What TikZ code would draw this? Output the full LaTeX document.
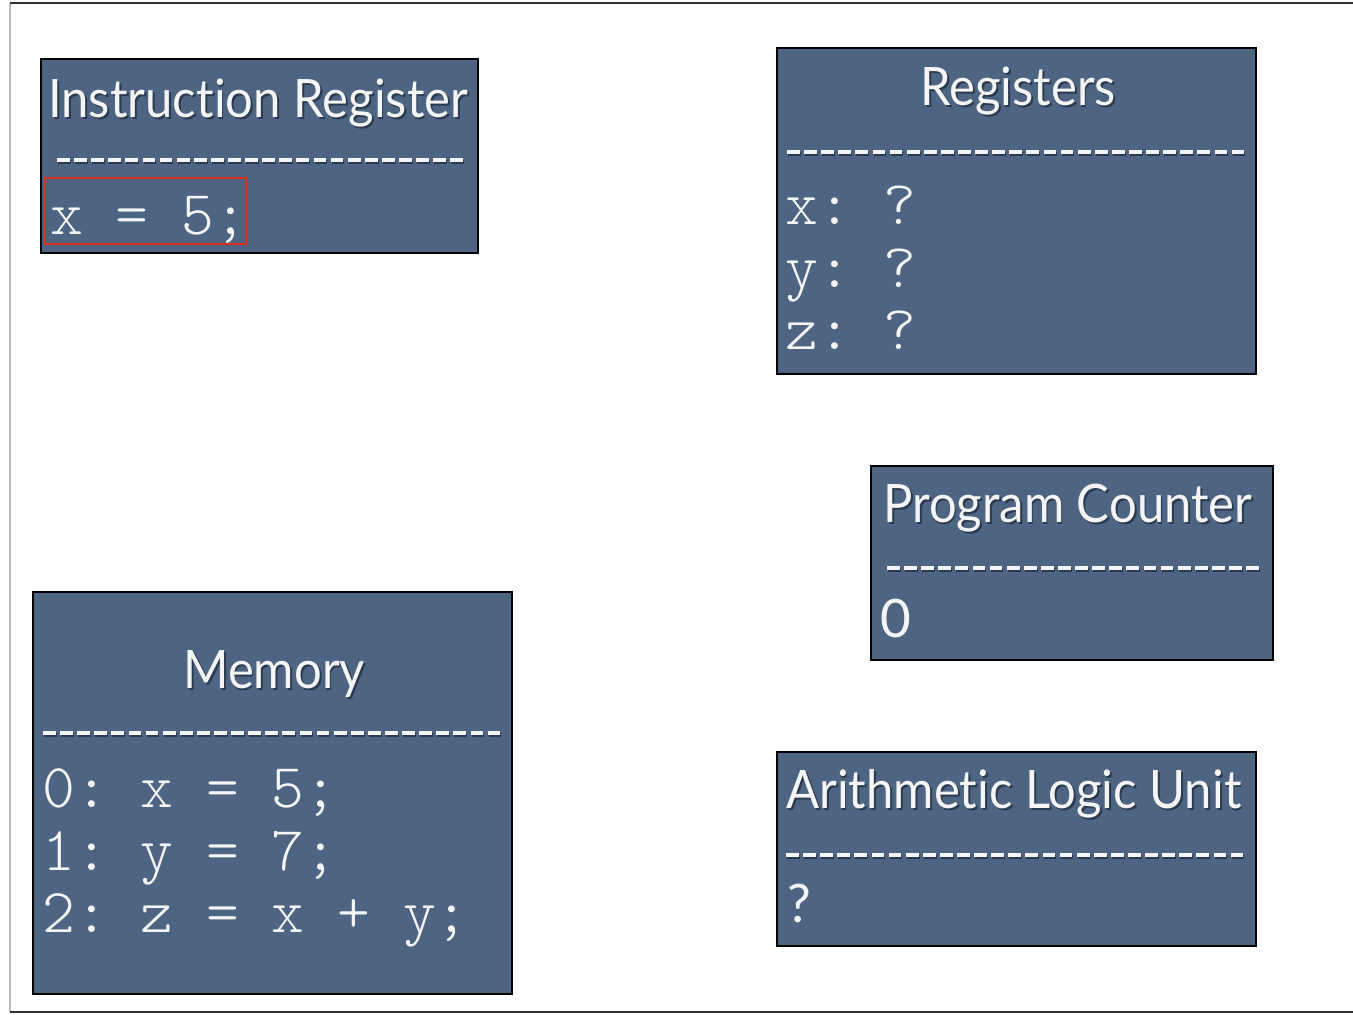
\documentclass[tikz,border=0pt]{standalone}
\usepackage{fontspec}
\setmainfont{Lato}[Ligatures={NoCommon}]
\newfontfamily\codefont{Latin Modern Mono Light}
\definecolor{slate}{HTML}{4E6483}
\definecolor{slateshade}{HTML}{2C3A4F}
\definecolor{ink}{HTML}{F5F5F5}
\definecolor{markred}{HTML}{D9301E}
\definecolor{edgegray}{HTML}{BBBBBB}
% white heading text, slightly condensed, with a soft dark drop shadow
\newcommand\shadowtext[1]{\scalebox{0.925}[1]{\makebox[0pt][l]{\kern2pt\raisebox{-2.5pt}{\color{slateshade}#1}}#1}}
\begin{document}
\begin{tikzpicture}[x=1pt,y=-1pt,
  unitbox/.style={draw=black, line width=2pt, fill=slate, anchor=north west, inner sep=0pt},
  title/.style={text=ink, font=\fontsize{53}{60}\selectfont, anchor=base west, inner sep=0pt},
  code/.style={text=ink, font=\codefont\fontsize{62.5}{62}\selectfont\frenchspacing, anchor=base west, inner sep=0pt},
  rulesh/.style={draw=slateshade, line width=4.5pt, dash pattern=on 12.8pt off 4.3pt},
  rule/.style={draw=ink, line width=4.5pt, dash pattern=on 12.8pt off 4.3pt}]
\useasboundingbox (0,0) rectangle (1353,1015);
% page frame
\draw[edgegray, line width=1.2pt] (10,3) -- (10,1012);
\draw[black!80, line width=1.2pt] (10,3) -- (1353,3);
\draw[black!80, line width=1.2pt] (10,1012) -- (1353,1012);

% Instruction Register
\node[unitbox, minimum width=437pt, minimum height=194pt] (ir) at (40,58) {};
\node[title] (irT) at (48,117) {\shadowtext{Instruction Register}};
\draw[rulesh] (58,162) -- (464,162);
\draw[rule] (57,160) -- (463,160);
\node[code] (irC) at (50,234) {x = 5;};
\node[draw=markred, line width=2pt, anchor=north west, minimum width=201pt, minimum height=66pt, inner sep=0pt] (irMark) at (44,177) {};

% Registers
\node[unitbox, minimum width=479pt, minimum height=326pt] (reg) at (776,47) {};
\node[title] (regT) at (920,105) {\shadowtext{Registers}};
\draw[rulesh] (788,154) -- (1245.4,154);
\draw[rule] (787,152) -- (1244.4,152);
\node[code] (regX) at (785,224) {x: ?};
\node[code] (regY) at (785,287) {y: ?};
\node[code] (regZ) at (785,349) {z: ?};

% Program Counter
\node[unitbox, minimum width=402pt, minimum height=194pt] (pc) at (870,465) {};
\node[title] (pcT) at (883,522) {\shadowtext{Program Counter}};
\draw[rulesh] (888,570) -- (1259.9,570);
\draw[rule] (887,568) -- (1258.9,568);
\node[title] (pcV) at (880,637) {0};

% Memory
\node[unitbox, minimum width=479pt, minimum height=402pt] (mem) at (32,591) {};
\node[title] (memT) at (183,688) {\shadowtext{Memory}};
\draw[rulesh] (44,735) -- (501.4,735);
\draw[rule] (43,733) -- (500.4,733);
\node[code] (mem0) at (42,807) {0: x = 5;};
\node[code] (mem1) at (42,870) {1: y = 7;};
\node[code] (mem2) at (42,932) {2: z = x + y;};

% Arithmetic Logic Unit
\node[unitbox, minimum width=479pt, minimum height=194pt] (alu) at (776,751) {};
\node[title] (aluT) at (786,808) {\shadowtext{Arithmetic Logic Unit}};
\draw[rulesh] (787,857) -- (1244.4,857);
\draw[rule] (786,855) -- (1243.4,855);
\node[title] (aluV) at (787,922) {?};
\end{tikzpicture}
\end{document}
